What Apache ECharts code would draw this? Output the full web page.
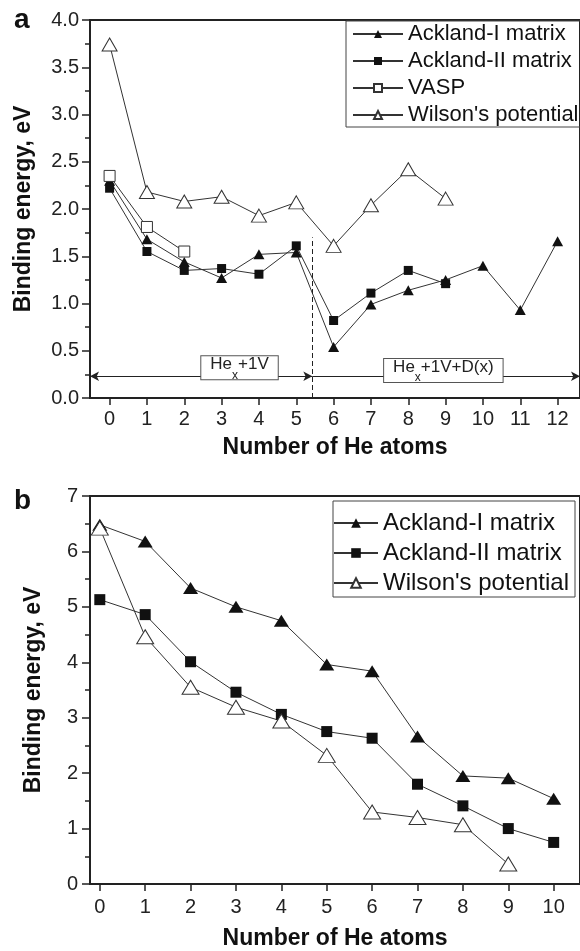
<!DOCTYPE html>
<html>
<head>
<meta charset="utf-8">
<script src="https://cdn.jsdelivr.net/npm/echarts@6/dist/echarts.min.js"></script>
<style>
html,body{margin:0;padding:0;background:#fff;}
#chart{width:580px;height:951px;}
</style>
</head>
<body>
<div id="chart"></div>
<script>
// ---------- Panel a data ----------
const xTicksA = [0,1,2,3,4,5,6,7,8,9,10,11,12];
const acklandI_a  = [2.30,1.68,1.44,1.27,1.52,1.54,0.54,0.99,1.14,1.25,1.40,0.93,1.66];
const acklandII_a = [2.22,1.55,1.35,1.37,1.31,1.61,0.82,1.11,1.35,1.21];
const vasp_a      = [2.35,1.81,1.55];
const wilson_a    = [3.74,2.18,2.08,2.13,1.93,2.07,1.61,2.04,2.42,2.11];
const dividerX = 5.43;      // dashed separator between regions
const arrowY = 0.23;        // level of region arrows
const dividerTop = 1.7;
const regionLabelA = {x: 3.48, y: 0.32};
const regionLabelB = {x: 8.94, y: 0.29};

// ---------- Panel b data ----------
const xTicksB = [0,1,2,3,4,5,6,7,8,9,10];
const acklandI_b  = [6.48,6.18,5.34,5.00,4.75,3.96,3.84,2.66,1.95,1.91,1.54];
const acklandII_b = [5.13,4.86,4.01,3.46,3.06,2.75,2.63,1.80,1.41,1.00,0.75];
const wilson_b    = [6.42,4.46,3.55,3.19,2.94,2.32,1.30,1.20,1.07,0.36];

const names = ['Ackland-I matrix','Ackland-II matrix','VASP',"Wilson's potential"];

const FONT = "'Liberation Sans', Arial, Helvetica, sans-serif";
const pairs = arr => arr.map((v,i)=>[i,v]);

const filled = {color:'#111', borderColor:'#111', borderWidth:0};
const open = {color:'#fff', borderColor:'#333', borderWidth:1};
const lineSt = {color:'#333', width:1};

function axisX(grid, min, max, ticks, margin, gap){
  return {
    type:'value', gridIndex:grid, min:min, max:max,
    name:'Number of He atoms', nameLocation:'middle', nameGap:gap,
    nameTextStyle:{fontFamily:FONT, fontWeight:'bold', fontSize:23, color:'#111'},
    axisLine:{show:true, onZero:false, lineStyle:{color:'#222', width:2}},
    axisTick:{show:true, length:7, customValues:ticks, lineStyle:{color:'#222', width:1.5}},
    axisLabel:{customValues:ticks, margin:margin, fontFamily:FONT, fontSize:20, color:'#222'},
    splitLine:{show:false}
  };
}
function axisY(grid, max, interval, fmt, gap, margin){
  return {
    type:'value', gridIndex:grid, min:0, max:max, interval:interval,
    name:'Binding energy, eV', nameLocation:'middle', nameGap:gap,
    nameTextStyle:{fontFamily:FONT, fontWeight:'bold', fontSize:23, color:'#111'},
    axisLine:{show:true, onZero:false, lineStyle:{color:'#222', width:2}},
    axisTick:{show:true, length:8, lineStyle:{color:'#222', width:1.5}},
    minorTick:{show:true, splitNumber:2, length:5, lineStyle:{color:'#222', width:1.5}},
    axisLabel:{margin:margin, fontFamily:FONT, fontSize:20, color:'#222', formatter:fmt},
    splitLine:{show:false}, minorSplitLine:{show:false}
  };
}

const regionRich = {
  m:{fontFamily:FONT, fontSize:17, color:'#222', lineHeight:18, padding:[0,0,8,0]},
  s:{fontFamily:FONT, fontSize:12, color:'#222', lineHeight:12, padding:[14,0,0,0]}
};
const regionLabel = {
  show:true, position:'inside', backgroundColor:'#fff', borderColor:'#555', borderWidth:1,
  padding:[3,9,2,9], rich:regionRich
};

function series(name, data, xi, sym, size, style, extra){
  return Object.assign({
    name:name, type:'line', xAxisIndex:xi, yAxisIndex:xi, data:pairs(data),
    symbol:sym, symbolSize:size, showAllSymbol:true,
    itemStyle:style, lineStyle:lineSt, emphasis:{disabled:true}, animation:false
  }, extra||{});
}

const option = {
  animation:false,
  backgroundColor:'#fff',
  grid:[
    {left:90, top:20, width:500, height:378, show:true, borderColor:'#222', borderWidth:2, backgroundColor:'transparent'},
    {left:90, top:496, width:500, height:392, show:true, borderColor:'#222', borderWidth:2, backgroundColor:'transparent'}
  ],
  xAxis:[
    axisX(0, -0.525, 12.6, xTicksA, 11, 38.5),
    axisX(1, -0.216, 10.58, xTicksB, 13.5, 43)
  ],
  yAxis:[
    axisY(0, 4, 0.5, v=>v.toFixed(1), 55, 11),
    axisY(1, 7, 1, v=>String(v), 44.5, 12)
  ],
  legend:[
    {data:names, orient:'vertical', left:346, top:21, itemWidth:50, itemHeight:10, itemGap:5,
     padding:[2,24,1,6], borderColor:'#444', borderWidth:1, selectedMode:false,
     textStyle:{fontFamily:FONT, fontSize:22, lineHeight:22, color:'#111'}},
    {data:['Ackland-I matrix','Ackland-II matrix',"Wilson's potential"], orient:'vertical', left:333, top:501,
     itemWidth:44, itemHeight:12, itemGap:6, padding:[10,6,2,0], borderColor:'#444', borderWidth:1, selectedMode:false,
     textStyle:{fontFamily:FONT, fontSize:24, lineHeight:24, color:'#111'}}
  ],
  graphic:[
    {type:'text', left:14, top:6, style:{text:'a', font:'bold 28px '+FONT, fill:'#111'}},
    {type:'text', left:14, top:487, style:{text:'b', font:'bold 28px '+FONT, fill:'#111'}}
  ],
  series:[
    series(names[0], acklandI_a, 0, 'triangle', [11,10], filled, {
      markLine:{silent:true, animation:false, symbol:['none','none'], symbolSize:[7,9], label:{show:false},
        lineStyle:{color:'#222', width:1, type:'solid'},
        data:[
          [{coord:[dividerX,0], lineStyle:{type:[5,3], color:'#222', width:1}}, {coord:[dividerX,dividerTop]}],
          [{coord:[-0.525,arrowY], symbol:'arrow'}, {coord:[dividerX,arrowY], symbol:'arrow'}],
          [{coord:[dividerX,arrowY], symbol:'none'}, {coord:[12.6,arrowY], symbol:'arrow'}]
        ]},
      markPoint:{silent:true, animation:false, symbol:'rect', symbolSize:1, itemStyle:{color:'rgba(0,0,0,0)'},
        data:[
          {coord:[regionLabelA.x, regionLabelA.y], label:Object.assign({}, regionLabel, {formatter:'{m|He}{s|x}{m|+1V}'})},
          {coord:[regionLabelB.x, regionLabelB.y], label:Object.assign({}, regionLabel, {formatter:'{m|He}{s|x}{m|+1V+D(x)}'})}
        ]}
    }),
    series(names[1], acklandII_a, 0, 'rect', 9, filled),
    series(names[2], vasp_a, 0, 'rect', 11, open),
    series(names[3], wilson_a, 0, 'triangle', [15,13], open),
    series(names[0], acklandI_b, 1, 'triangle', [15,12], filled),
    series(names[1], acklandII_b, 1, 'rect', 11, filled),
    series(names[3], wilson_b, 1, 'triangle', [17,14], open)
  ]
};

const chart = echarts.init(document.getElementById('chart'), null, {renderer:'canvas'});
chart.setOption(option);
</script>
</body>
</html>
